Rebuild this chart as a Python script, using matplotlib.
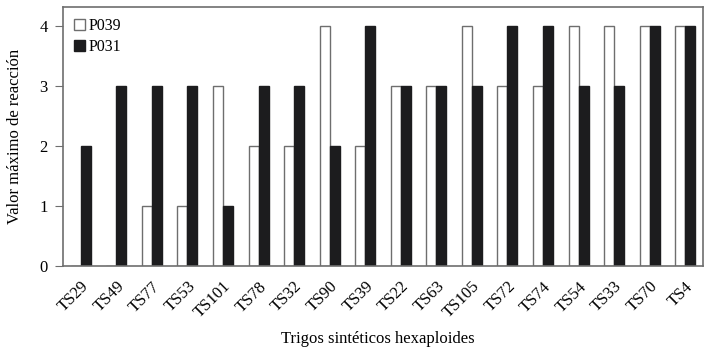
import numpy as np
import matplotlib.pyplot as plt

plt.rcParams['font.family'] = ['Liberation Serif', 'DejaVu Serif']

# Data
lines = ["TS29", "TS49", "TS77", "TS53", "TS101", "TS78", "TS32", "TS90", "TS39",
         "TS22", "TS63", "TS105", "TS72", "TS74", "TS54", "TS33", "TS70", "TS4"]
p039 = [0, 0, 1, 1, 3, 2, 2, 4, 2, 3, 3, 4, 3, 3, 4, 4, 4, 4]
p031 = [2, 3, 3, 3, 1, 3, 3, 2, 4, 3, 3, 3, 4, 4, 3, 3, 4, 4]

fig = plt.figure(figsize=(7.21, 3.53), dpi=100)
ax = fig.add_axes([63 / 721, 1 - 266 / 353, 640 / 721, 259 / 353])

x = np.arange(len(lines))
w = 0.28
ax.bar(x - w / 2, p039, w, color='white', edgecolor='#6e6e6e', linewidth=1, label='P039')
ax.bar(x + w / 2, p031, w, color='#1c1c1e', edgecolor='#1c1c1e', linewidth=1, label='P031')

ax.set_xlim(-0.5, len(lines) - 0.5)
ax.set_ylim(0, 4.32)
ax.set_yticks([0, 1, 2, 3, 4])
ax.set_xticks(x)
ax.set_xticklabels(lines, rotation=45, ha='right', rotation_mode='anchor', fontsize=12)
ax.tick_params(axis='x', length=0, pad=9)
ax.tick_params(axis='y', length=6, color='#6e6e6e', labelsize=12, pad=5)
for s in ax.spines.values():
    s.set_color('#6e6e6e')
    s.set_linewidth(1.2)

ax.set_ylabel('Valor máximo de reacción', fontsize=12, labelpad=12)
fig.text(378 / 721, 1 - 339 / 353, 'Trigos sintéticos hexaploides', fontsize=12,
         ha='center', va='center')

ax.legend(loc='upper left', frameon=False, fontsize=11.5, handlelength=0.7,
          handleheight=0.7, handletextpad=0.2, borderaxespad=0.3, labelspacing=0.3)

fig.savefig('out.png', dpi=100)
